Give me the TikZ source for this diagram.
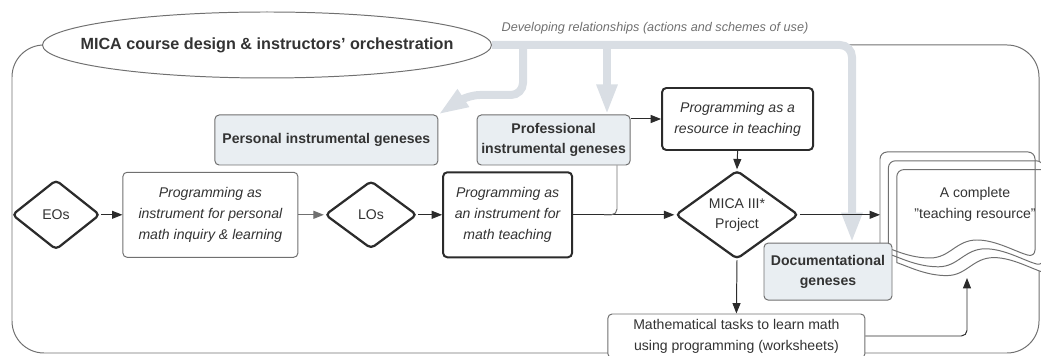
\documentclass[tikz,border=0pt]{standalone}
\usepackage{fontspec}
\setmainfont{Liberation Sans}
\usetikzlibrary{arrows.meta,shapes.geometric}
\definecolor{cInk}{HTML}{2B2B2B}
\definecolor{cEdge}{HTML}{707070}
\definecolor{cBand}{HTML}{D9DEE4}
\definecolor{cGen}{HTML}{E9EEF2}
\definecolor{cText}{HTML}{333333}
\tikzset{
  link/.style={-{Triangle[length=2.6mm,width=2mm]},line width=0.7pt,draw=cInk},
  band/.style={-{Triangle[length=7.5mm,width=4.8mm]},line width=2mm,draw=cBand,rounded corners=3mm},
  genesis/.style={rounded corners=3pt,draw=cEdge,fill=cGen,line width=0.7pt,align=center,
                  inner sep=1pt,font=\fontsize{10}{14.5}\selectfont\bfseries,text=cText},
  plain/.style={rounded corners=3pt,draw=cEdge,fill=white,line width=0.7pt,align=center,
                font=\fontsize{10}{15}\selectfont,text=cText},
  strong/.style={rounded corners=3pt,draw=cInk,fill=white,line width=1.4pt,align=center,
                 font=\fontsize{10}{15}\selectfont\itshape,text=cText},
  gate/.style={diamond,rounded corners=3pt,draw=cInk,fill=white,line width=1.6pt,align=center,
               inner sep=0pt,font=\fontsize{10}{14}\selectfont,text=cText},
  pagefill/.style={fill=white,draw=none},
  pageline/.style={draw=cEdge,line width=0.7pt},
  note/.style={font=\fontsize{9}{11}\selectfont\itshape,text=cEdge}
}
% one page of the stacked resource; #1 shift, #2 style
\newcommand{\resourcepage}[2]{%
  \path[#2,shift={#1}] (22.0,2.775) [rounded corners=5pt] -- (22.0,5.1) -- (25.875,5.1)
    -- (25.875,2.475) [sharp corners]
    .. controls (25.4,2.6) and (24.9,2.9) .. (24.425,2.9)
    .. controls (23.9,2.9) and (23.75,2.45) .. (23.25,2.45)
    .. controls (22.75,2.45) and (22.35,2.65) .. (22.0,2.775) -- cycle;}

\begin{document}
\begin{tikzpicture}
  \useasboundingbox (0,0) rectangle (26.025,8.9);
  % frame of the course
  \draw[cEdge,line width=0.7pt,rounded corners=8mm] (0.3,0.075) rectangle (25.975,7.775);

  % stacked pages of the teaching resource
  \resourcepage{(0,0)}{pagefill}
  \resourcepage{(0.21,-0.22)}{pagefill}
  \resourcepage{(0.42,-0.44)}{pagefill}
  \resourcepage{(0,0)}{pageline}
  \resourcepage{(0.21,-0.22)}{pageline}
  \resourcepage{(0.42,-0.44)}{pageline}
  \node[font=\fontsize{10}{15}\selectfont,text=cText,align=center] (complete) at (24.375,3.8)
    {A complete\\"teaching resource"};
  \coordinate (docin) at (22.0,3.53);
  \coordinate (docup) at (24.175,1.95);

  \draw[cEdge,fill=white,line width=0.7pt] (6.675,7.775) ellipse [x radius=5.6125, y radius=0.825];
  \node[minimum width=11.225cm,minimum height=1.65cm,
        font=\fontsize{11.5}{14}\selectfont\bfseries,text=cText] (orch) at (6.675,7.775)
    {MICA course design \& instructors' orchestration};
  \node[note] (rel) at (16.375,8.2) {Developing relationships (actions and schemes of use)};

  % geneses
  \node[genesis,minimum width=5.575cm,minimum height=1.25cm] (pig) at (8.16,5.4)
    {Personal instrumental geneses};
  \node[genesis,minimum width=3.825cm,minimum height=1.25cm] (pfig) at (13.84,5.4)
    {Professional\\instrumental geneses};
  \node[genesis,minimum width=3.2cm,minimum height=1.425cm] (docgen) at (20.7,2.11)
    {Documentational\\geneses};

  % main row
  \node[gate,minimum width=2.2cm,minimum height=1.75cm] (eos) at (1.4,3.53) {EOs};
  \node[plain,font=\fontsize{10}{15}\selectfont\itshape,minimum width=4.375cm,minimum height=2.125cm]
    (inquiry) at (5.26,3.53) {Programming as\\instrument for personal\\math inquiry \& learning};
  \node[gate,minimum width=2.3cm,minimum height=1.7cm] (los) at (9.275,3.53) {LOs};
  \node[strong,minimum width=3.225cm,minimum height=2.125cm] (teachinstr) at (12.69,3.53)
    {Programming as\\an instrument for\\math teaching};
  \node[gate,minimum width=3.075cm,minimum height=2.05cm] (mica) at (18.425,3.53)
    {MICA III*\\Project};
  \node[strong,minimum width=3.775cm,minimum height=1.55cm] (resteach) at (18.44,5.925)
    {Programming as a\\resource in teaching};
  \node[plain,minimum width=6.425cm,minimum height=1.1cm] (tasks) at (18.41,0.5)
    {Mathematical tasks to learn math\\using programming (worksheets)};

  % developing relationships
  \coordinate (bandturn) at (21.3,7.775);
  \coordinate (fork1) at (13.075,7.775);
  \coordinate (fork2) at (15.175,7.775);
  \coordinate (join) at (15.1,3.53);
  \draw[band] (orch.east) -- (bandturn) -- (docgen.north -| bandturn);
  \draw[band] (fork1) -- (13.075,6.525) -- (11.7,6.525) -- (pig.north east);
  \draw[band] (fork2) -- (pfig.north -| fork2);

  \draw[link] (eos.east) -- (inquiry.west);
  \draw[link,draw=cEdge] (inquiry.east) -- (los.west);
  \draw[link] (los.east) -- (teachinstr.west);
  \draw[link] (teachinstr.east) -- (mica.west);
  \draw[cEdge,line width=0.7pt,rounded corners=4pt] ([xshift=1.585cm]pfig.south) |- (join);
  \draw[link] (pfig.east |- resteach.west) -- (resteach.west);
  \draw[link] (resteach.south) -- (mica.north);
  \draw[link] (mica.east) -- (docin);
  \draw[link] (mica.south) -- (tasks.north);
  \draw[link,rounded corners=4pt] (tasks.east) -| (docup);
\end{tikzpicture}
\end{document}
